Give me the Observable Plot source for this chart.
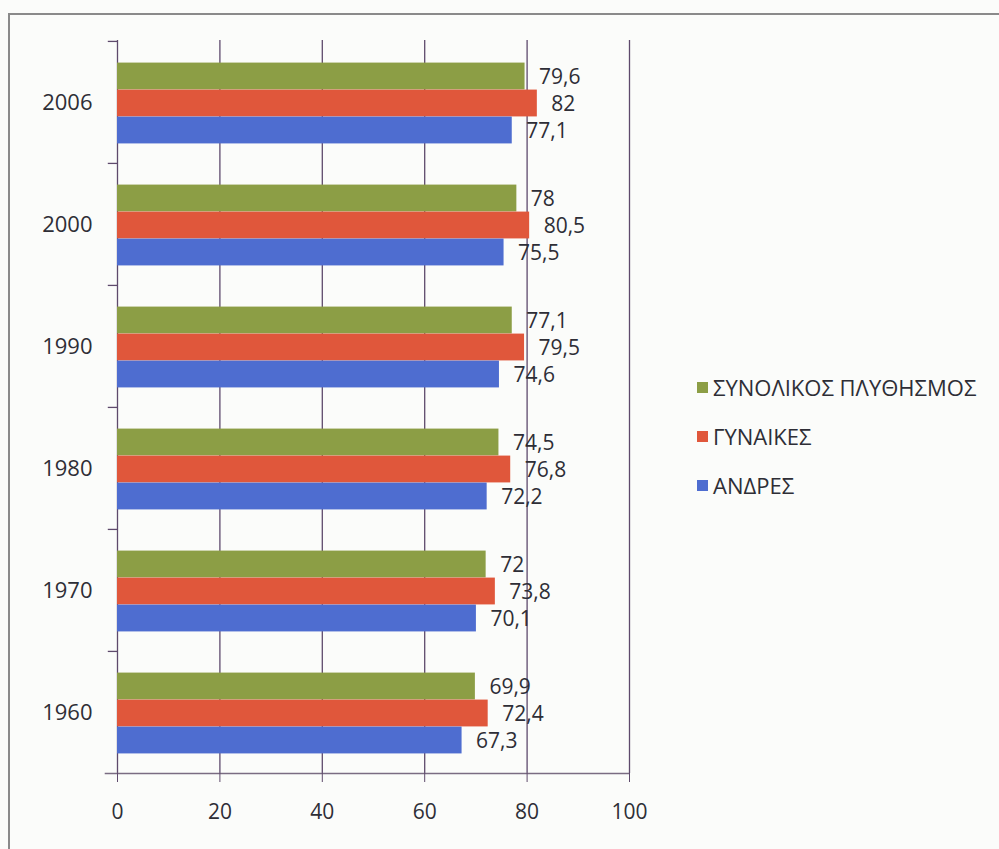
<!DOCTYPE html>
<html>
<head>
<meta charset="utf-8">
<script src="https://cdn.jsdelivr.net/npm/d3@7"></script>
<script src="https://cdn.jsdelivr.net/npm/@observablehq/plot@0.6"></script>
<style>
  html, body { margin: 0; padding: 0; background: #fbfcfa; }
  #wrap { position: relative; width: 999px; height: 849px; overflow: hidden; background: #fbfcfa; font-family: "Open Sans", sans-serif; }
  #frame { position: absolute; left: 8px; top: 13px; width: 1100px; height: 1000px; border-top: 2px solid #8a8a8a; border-left: 2px solid #8a8a8a; }
  #chart { position: absolute; left: 0; top: 0; }
  #legend { position: absolute; left: 697px; top: 371px; color: #2e2e36; font-size: 22px; font-weight: 500; }
  #legend .row { display: flex; align-items: center; height: 32px; margin-bottom: 17px; white-space: nowrap; }
  #legend .sw { width: 11px; height: 11px; margin-right: 5px; }
</style>
</head>
<body>
<div id="wrap">
  <div id="frame"></div>
  <div id="chart"></div>
  <div id="legend"></div>
</div>
<script>
const years = ["2006", "2000", "1990", "1980", "1970", "1960"];
const total = [79.6, 78, 77.1, 74.5, 72, 69.9];
const women = [82, 80.5, 79.5, 76.8, 73.8, 72.4];
const men = [77.1, 75.5, 74.6, 72.2, 70.1, 67.3];
const seriesNames = ["ΣΥΝΟΛΙΚΟΣ ΠΛΥΘΗΣΜΟΣ", "ΓΥΝΑΙΚΕΣ", "ΑΝΔΡΕΣ"];
const seriesValues = [total, women, men];
const colors = ["#8c9e45", "#e0573b", "#4e6dd0"];
const xTicks = [0, 20, 40, 60, 80, 100];

const W = 999, H = 849, mL = 117, mR = 370, mT = 40, mB = 76;
const band = (H - mT - mB) / years.length;
const barH = 27;
const inset = (band - barH) / 2;
const offsets = [-barH, 0, barH];
const gridColor = "#5e4a6c";
const textColor = "#2e2e36";
const fmt = v => String(v).replace(".", ",");

const marks = [];
marks.push(Plot.ruleX(xTicks, {stroke: gridColor, strokeWidth: 1.3}));
seriesNames.forEach((name, s) => {
  const rows = years.map((y, i) => ({year: y, value: seriesValues[s][i]}));
  marks.push(Plot.barX(rows, {x: "value", y: "year", fill: colors[s], insetTop: inset, insetBottom: inset, dy: offsets[s] + 1}));
  marks.push(Plot.text(rows, {x: "value", y: "year", text: d => fmt(d.value), textAnchor: "start", dx: 14, dy: offsets[s] + 2, fontSize: 21, fontWeight: 500, fill: textColor}));
});
// category boundary ticks
marks.push(Plot.ruleY(years, {x1: -1.8, x2: 0, dy: -band / 2, stroke: gridColor, strokeWidth: 1.3}));
// bottom axis line
marks.push(Plot.ruleY([years[years.length - 1]], {x1: -2.4, x2: 100, dy: band / 2, stroke: "#7a6c82", strokeWidth: 1.5}));
marks.push(Plot.axisX({ticks: xTicks, tickSize: 9, tickPadding: 22, fontSize: 21, fontWeight: 500, stroke: gridColor, fill: textColor, tickFormat: d => String(d), label: null}));
marks.push(Plot.axisY({tickSize: 0, tickPadding: 25, fontSize: 22, fontWeight: 500, fill: textColor, label: null}));

const chart = Plot.plot({
  width: W, height: H,
  marginLeft: mL, marginRight: mR, marginTop: mT, marginBottom: mB,
  style: {background: "transparent", fontFamily: "'Open Sans', sans-serif", color: textColor},
  x: {domain: [0, 100]},
  y: {domain: years, padding: 0},
  marks
});
document.getElementById("chart").appendChild(chart);

const legend = document.getElementById("legend");
seriesNames.forEach((name, s) => {
  const row = document.createElement("div");
  row.className = "row";
  const sw = document.createElement("span");
  sw.className = "sw";
  sw.style.background = colors[s];
  const t = document.createElement("span");
  t.textContent = name;
  row.appendChild(sw); row.appendChild(t);
  legend.appendChild(row);
});
</script>
</body>
</html>
